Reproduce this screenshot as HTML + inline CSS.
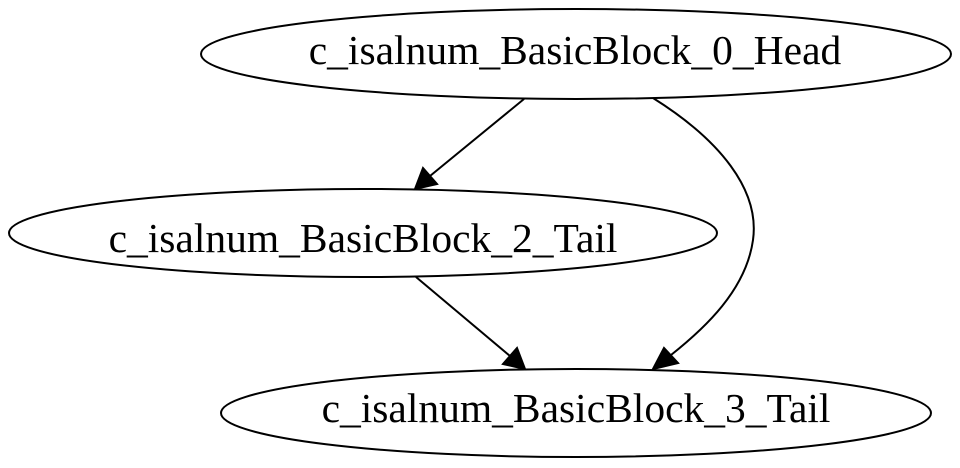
<!DOCTYPE html>
<html><head><style>html,body{margin:0;padding:0;background:#fff;width:960px;height:468px;overflow:hidden}</style></head>
<body>
<svg width="960" height="468" viewBox="0 0 960 468" xmlns="http://www.w3.org/2000/svg">
<g fill="none" stroke="#000" stroke-width="2">
<ellipse cx="576" cy="54" rx="375" ry="45"/>
<ellipse cx="363" cy="233" rx="354" ry="44"/>
<ellipse cx="576" cy="413" rx="355" ry="44"/>
<path d="M524,99 L430,176"/>
<path d="M416,277 L510,356"/>
<path d="M653,98 C720,140 760,190 753,240 C746,290 705,328 671,355"/>
</g>
<g fill="#000" stroke="#000" stroke-width="2">
<polygon points="415,189 423,168 437,184"/>
<polygon points="525,369 503,364 517,348"/>
<polygon points="653,369 664,348 678,363"/>
</g>
<g font-family="Liberation Serif, serif" font-size="41.5" text-anchor="middle" fill="#000">
<text x="575" y="64">c_isalnum_BasicBlock_0_Head</text>
<text x="363" y="252">c_isalnum_BasicBlock_2_Tail</text>
<text x="576" y="422">c_isalnum_BasicBlock_3_Tail</text>
</g>
</svg>
</body></html>
